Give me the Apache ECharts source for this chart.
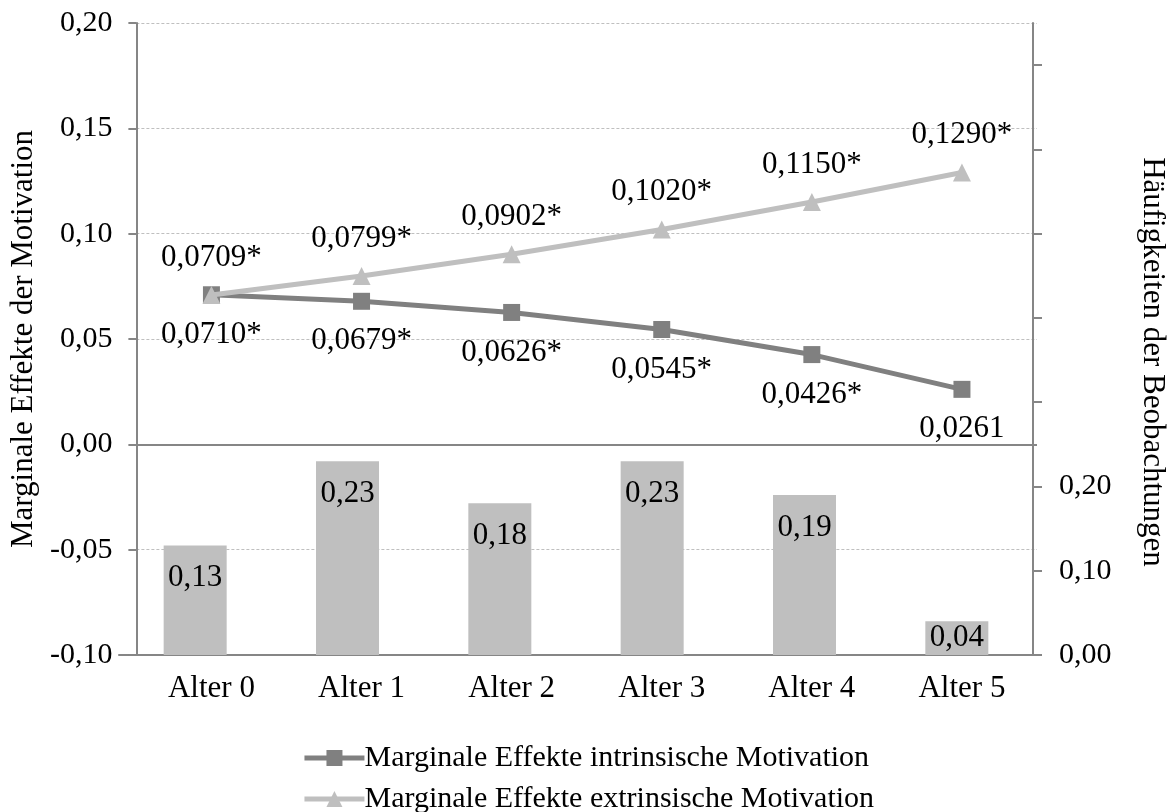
<!DOCTYPE html>
<html>
<head>
<meta charset="utf-8">
<script src="https://cdn.jsdelivr.net/npm/echarts@6/dist/echarts.min.js"></script>
<style>html,body{margin:0;padding:0;background:#fff;}#c{width:1176px;height:812px;}</style>
</head>
<body>
<div id="c"></div>
<script>
var categories = ['Alter 0', 'Alter 1', 'Alter 2', 'Alter 3', 'Alter 4', 'Alter 5'];
var intrinsicValues = [0.0710, 0.0679, 0.0626, 0.0545, 0.0426, 0.0261];
var intrinsicSignificant = [true, true, true, true, true, false];
var extrinsicValues = [0.0709, 0.0799, 0.0902, 0.1020, 0.1150, 0.1290];
var extrinsicSignificant = [true, true, true, true, true, true];
var frequencies = [0.13, 0.23, 0.18, 0.23, 0.19, 0.04];
var leftTicks = { min: -0.10, max: 0.20, interval: 0.05 };
var rightTicks = { min: 0, max: 0.75, interval: 0.10, labelMax: 0.20 };

var FONT = "'Liberation Serif', 'Times New Roman', serif";
var FS_LABEL = 31;
var FS_TICK = 30;
var FS_TITLE = 31;
var FS_LEGEND = 30;
var AXIS_COLOR = '#868686';

function comma(v, d) { return v.toFixed(d).replace('.', ','); }

var rightTickValues = [];
for (var i = 0; rightTicks.min + i * rightTicks.interval <= rightTicks.max + 1e-9; i++) {
  rightTickValues.push(+(rightTicks.min + i * rightTicks.interval).toFixed(4));
}

var chart = echarts.init(document.getElementById('c'), null, { renderer: 'canvas' });

var barData = frequencies.map(function (v) {
  return {
    value: v,
    label: { distance: v < 0.1 ? 1 : 17 }
  };
});

var option = {
  backgroundColor: '#ffffff',
  animation: false,
  textStyle: { fontFamily: FONT, color: '#000' },
  grid: [
    { left: 136, right: 139, top: 23, bottom: 157 },
    { left: 119, right: 139, top: 23, bottom: 157 }
  ],
  legend: {
    orient: 'vertical',
    left: 'center',
    top: 743,
    height: 90,
    padding: 0,
    itemWidth: 60,
    itemHeight: 20,
    itemGap: 11,
    data: ['Marginale Effekte intrinsische Motivation', 'Marginale Effekte extrinsische Motivation'],
    lineStyle: { width: 5 },
    textStyle: { fontFamily: FONT, fontSize: FS_LEGEND, color: '#000', lineHeight: 30, padding: [0, 0, 0, -5] }
  },
  xAxis: [
    {
      type: 'category', gridIndex: 0, data: categories, boundaryGap: true,
      axisLine: { show: false }, axisTick: { show: false },
      axisLabel: { fontFamily: FONT, fontSize: FS_LABEL, color: '#000', margin: 18 },
      splitLine: { show: false }
    },
    {
      type: 'category', gridIndex: 1, data: categories, boundaryGap: true,
      axisLine: { show: true, onZero: false, lineStyle: { color: AXIS_COLOR, width: 2 } },
      axisTick: { show: false }, axisLabel: { show: false }, splitLine: { show: false }
    }
  ],
  yAxis: [
    {
      type: 'value', gridIndex: 0, position: 'left',
      min: leftTicks.min, max: leftTicks.max, interval: leftTicks.interval,
      name: 'Marginale Effekte der Motivation', nameLocation: 'middle', nameRotate: 90, nameGap: 80,
      nameTextStyle: { fontFamily: FONT, fontSize: FS_TITLE, color: '#000' },
      axisLine: { show: true, lineStyle: { color: AXIS_COLOR, width: 2 } },
      axisTick: { show: true, length: 8, lineStyle: { color: AXIS_COLOR, width: 2 } },
      axisLabel: { fontFamily: FONT, fontSize: FS_TICK, color: '#000', margin: 24,
        formatter: function (v) { return comma(v, 2); } },
      splitLine: { show: true, lineStyle: { color: '#bfbfbf', width: 1, type: [3, 2] } }
    },
    {
      type: 'value', gridIndex: 1, position: 'right',
      min: rightTicks.min, max: rightTicks.max, interval: rightTicks.interval,
      name: 'Häufigkeiten der Beobachtungen', nameLocation: 'middle', nameRotate: -90, nameGap: 104,
      nameTextStyle: { fontFamily: FONT, fontSize: FS_TITLE, color: '#000', padding: [0, 0, 0, 46] },
      axisLine: { show: true, lineStyle: { color: AXIS_COLOR, width: 2 } },
      axisTick: { show: true, length: 9, customValues: rightTickValues, lineStyle: { color: AXIS_COLOR, width: 2 } },
      axisLabel: { fontFamily: FONT, fontSize: FS_TICK, color: '#000', margin: 26,
        formatter: function (v) { return v <= rightTicks.labelMax + 1e-9 ? comma(v, 2) : ''; } },
      splitLine: { show: false }
    }
  ],
  series: [
    {
      name: 'Häufigkeiten', type: 'bar', xAxisIndex: 1, yAxisIndex: 1,
      data: barData, barWidth: 63,
      itemStyle: { color: '#bfbfbf' },
      label: { show: true, position: 'insideTop', fontFamily: FONT, fontSize: FS_LABEL, color: '#000',
        formatter: function (p) { return comma(p.value, 2); } },
      z: 1
    },
    {
      name: 'Marginale Effekte intrinsische Motivation', type: 'line', xAxisIndex: 0, yAxisIndex: 0,
      data: intrinsicValues,
      symbol: 'rect', symbolSize: 17, showAllSymbol: true,
      lineStyle: { color: '#808080', width: 5 },
      itemStyle: { color: '#808080' },
      label: { show: true, position: 'bottom', distance: 16, fontFamily: FONT, fontSize: FS_LABEL, color: '#000',
        formatter: function (p) { return comma(p.value, 4) + (intrinsicSignificant[p.dataIndex] ? '*' : ''); } },
      markLine: {
        silent: true, symbol: 'none', label: { show: false },
        lineStyle: { color: AXIS_COLOR, width: 2, type: 'solid' },
        data: [{ yAxis: 0 }]
      },
      z: 3
    },
    {
      name: 'Marginale Effekte extrinsische Motivation', type: 'line', xAxisIndex: 0, yAxisIndex: 0,
      data: extrinsicValues,
      symbol: 'triangle', symbolSize: 18, showAllSymbol: true,
      lineStyle: { color: '#bfbfbf', width: 5 },
      itemStyle: { color: '#bfbfbf' },
      label: { show: true, position: 'top', distance: 13, fontFamily: FONT, fontSize: FS_LABEL, color: '#000',
        formatter: function (p) { return comma(p.value, 4) + (extrinsicSignificant[p.dataIndex] ? '*' : ''); } },
      z: 4
    }
  ]
};
chart.setOption(option);
</script>
</body>
</html>
